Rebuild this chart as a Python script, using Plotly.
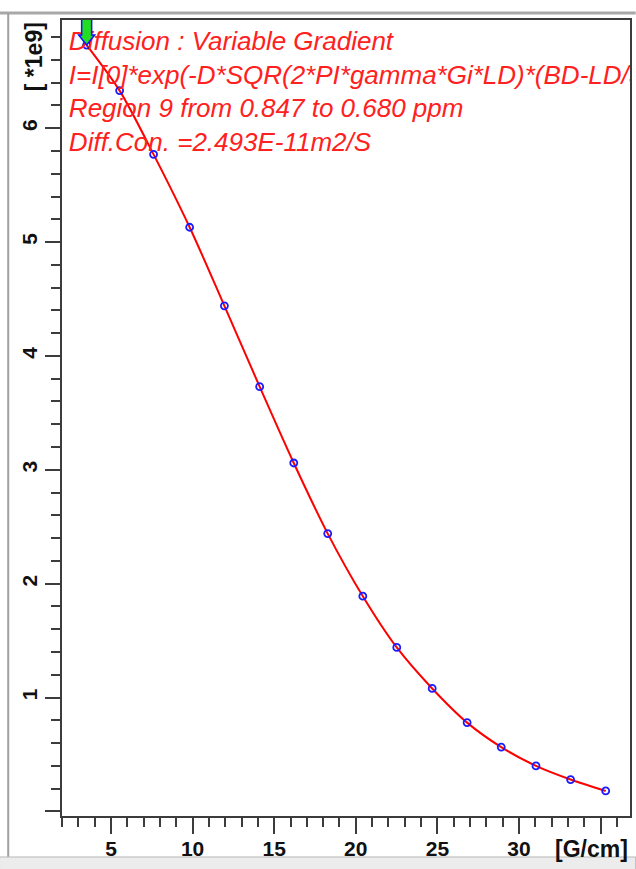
import plotly.graph_objects as go

# Diffusion decay: gradient strength [G/cm] vs integrated intensity [*1e9]
gradient = [3.51, 5.53, 7.61, 9.82, 11.95, 14.11, 16.20, 18.28,
            20.43, 22.51, 24.68, 26.82, 28.91, 31.04, 33.16, 35.31]
intensity = [6.73, 6.33, 5.77, 5.13, 4.44, 3.73, 3.06, 2.44,
             1.89, 1.44, 1.08, 0.78, 0.565, 0.40, 0.28, 0.18]

x_tick_vals = [5, 10, 15, 20, 25, 30, 35]
x_tick_text = ["5", "10", "15", "20", "25", "30", ""]
y_tick_vals = [0, 1, 2, 3, 4, 5, 6]
y_tick_text = ["", "1", "2", "3", "4", "5", "6"]

note_lines = [
    "Diffusion : Variable Gradient",
    "I=I[0]*exp(-D*SQR(2*PI*gamma*Gi*LD)*(BD-LD/3))",
    "Region 9 from 0.847 to 0.680 ppm",
    "Diff.Con. =2.493E-11m2/S",
]

FONT = "Liberation Sans, Arial, sans-serif"
AXIS_COLOR = "#3c3c3c"
X_RANGE = [2, 36.8]
Y_RANGE = [-0.04, 6.95]

fig = go.Figure()

# Fit curve with measured points on top
fig.add_trace(go.Scatter(
    x=gradient, y=intensity, mode="lines+markers",
    line=dict(color="#ff0000", width=2, shape="spline", smoothing=0.8),
    marker=dict(symbol="circle-open", size=7, color="#1a1aff",
                line=dict(width=1.8, color="#1a1aff")),
    showlegend=False, hoverinfo="x+y",
))

# Fit description text; the long formula line runs past the frame and is clipped
note_x = 2.42
note_top = 6.745
note_step = 0.297
fig.add_trace(go.Scatter(
    x=[note_x] * len(note_lines),
    y=[note_top - i * note_step for i in range(len(note_lines))],
    mode="text", text=note_lines, textposition="middle right",
    textfont=dict(family=FONT, size=26, color="#ff2020", style="italic"),
    cliponaxis=True, showlegend=False, hoverinfo="skip",
))

tick_font = dict(family=FONT, size=21, color="#111111", weight="bold")
label_font = dict(family=FONT, size=23, color="#111111", weight="bold")

fig.update_xaxes(
    range=X_RANGE, showgrid=False, zeroline=False,
    showline=True, linecolor=AXIS_COLOR, linewidth=2, mirror=True,
    tickmode="array", tickvals=x_tick_vals, ticktext=x_tick_text,
    ticks="outside", ticklen=16, tickwidth=2, tickcolor=AXIS_COLOR,
    tickfont=tick_font, ticklabelstandoff=-3,
    minor=dict(tickmode="linear", tick0=0, dtick=1, ticks="outside",
               ticklen=9, tickwidth=2, tickcolor=AXIS_COLOR),
)
fig.update_yaxes(
    range=Y_RANGE, showgrid=False, zeroline=False,
    showline=True, linecolor=AXIS_COLOR, linewidth=2, mirror=True,
    tickmode="array", tickvals=y_tick_vals, ticktext=y_tick_text,
    ticks="outside", ticklen=15, tickwidth=2, tickcolor=AXIS_COLOR,
    tickfont=tick_font, tickangle=-90, ticklabelstandoff=0,
    minor=dict(tickmode="linear", tick0=0, dtick=0.2, ticks="outside",
               ticklen=9, tickwidth=2, tickcolor=AXIS_COLOR),
)

# Axis unit labels
fig.add_annotation(text="[G/cm]", xref="paper", yref="paper",
                   x=0.9316, y=-0.0415, xanchor="center", yanchor="middle",
                   showarrow=False, font=label_font)
fig.add_annotation(text="[ *1e9]", xref="paper", yref="paper",
                   x=-0.049, y=0.9535, xanchor="center", yanchor="middle",
                   textangle=-90, showarrow=False, font=label_font)

# Green cursor arrow pointing at the first measured point
fig.add_shape(
    type="path", xref="x", yref="y",
    xsizemode="pixel", ysizemode="pixel",
    xanchor=gradient[0], yanchor=intensity[0],
    path="M 0,0 L -8,10 L -5,10 L -5,26 L 5,26 L 5,10 L 8,10 Z",
    fillcolor="#22dd22", line=dict(color="#1010ff", width=1.5),
    layer="above",
)

# Window frame around the plot
fig.add_shape(type="line", xref="paper", yref="paper",
              x0=-0.11, x1=1.01, y0=1.0088, y1=1.0088,
              line=dict(color="#a8a8a8", width=3), layer="below")
fig.add_shape(type="line", xref="paper", yref="paper",
              x0=-0.0947, x1=-0.0947, y0=1.0088, y1=-0.0515,
              line=dict(color="#a0a0a0", width=2), layer="below")
fig.add_shape(type="rect", xref="paper", yref="paper",
              x0=-0.11, x1=1.01, y0=-0.0515, y1=-0.07,
              fillcolor="#ececec", line=dict(color="#b8b8b8", width=1),
              layer="below")

fig.update_layout(
    width=636, height=869,
    margin=dict(l=62, r=4, t=20, b=53),
    paper_bgcolor="white", plot_bgcolor="white",
    showlegend=False,
)

fig.write_html("out.html")
